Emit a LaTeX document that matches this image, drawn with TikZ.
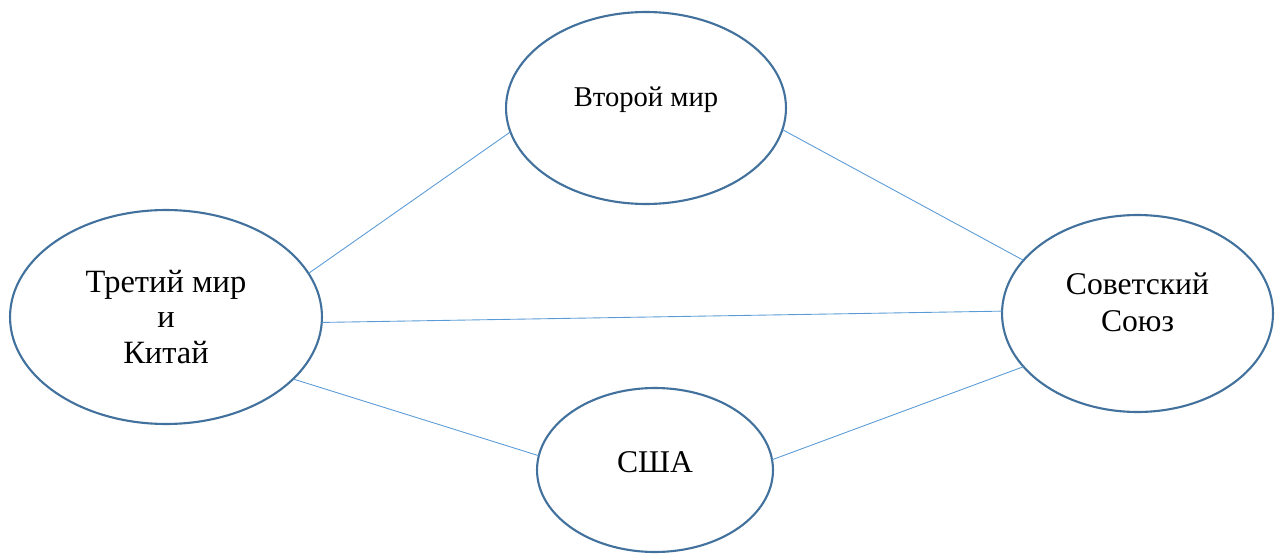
\documentclass[tikz,border=0pt]{standalone}
\usepackage{fontspec}
\setmainfont{Liberation Serif}
\usetikzlibrary{shapes.geometric}
\definecolor{rimblue}{HTML}{41719C}
\definecolor{linkblue}{HTML}{5B9BD5}
\tikzset{
    world/.style = {
        draw=rimblue, ellipse, align=center,
        line width=1.2pt,
        outer sep=0,
        inner sep=0,
        font=\fontsize{18}{21.5}\selectfont
    },
    link/.style = {
        draw=linkblue, line width=0.5pt
    }
}

\begin{document}
\begin{tikzpicture}[x=0.02cm,y=0.02cm]
\useasboundingbox (0,0) rectangle (1280,-554);

\node[world, minimum width=5.6cm,  minimum height=3.84cm, font=\fontsize{16.3}{20}\selectfont,
      text height=11pt, text depth=12.2pt](Second) at (646,-108) {Второй мир};
\node[world, minimum width=6.24cm, minimum height=4.28cm, font=\fontsize{18.5}{20.2}\selectfont](Third) at (166,-317) {Третий мир\\и\\Китай};
\node[world, minimum width=5.42cm, minimum height=3.94cm,
      text height=33pt, text depth=12pt](USSR) at (1137.5,-313.5) {Советский\\Союз};
\node[world, minimum width=4.72cm, minimum height=3.28cm,
      text height=12pt, text depth=9.7pt](USA) at (655,-470) {США};

\draw[link] (Third.17)   -- (Second.190);
\draw[link] (Second.351) -- (USSR.155);
\draw[link] (Third.358)  -- (USSR.179);
\draw[link] (Third.334)  -- (USA.173);
\draw[link] (USA.5)      -- (USSR.205);

\end{tikzpicture}
\end{document}
